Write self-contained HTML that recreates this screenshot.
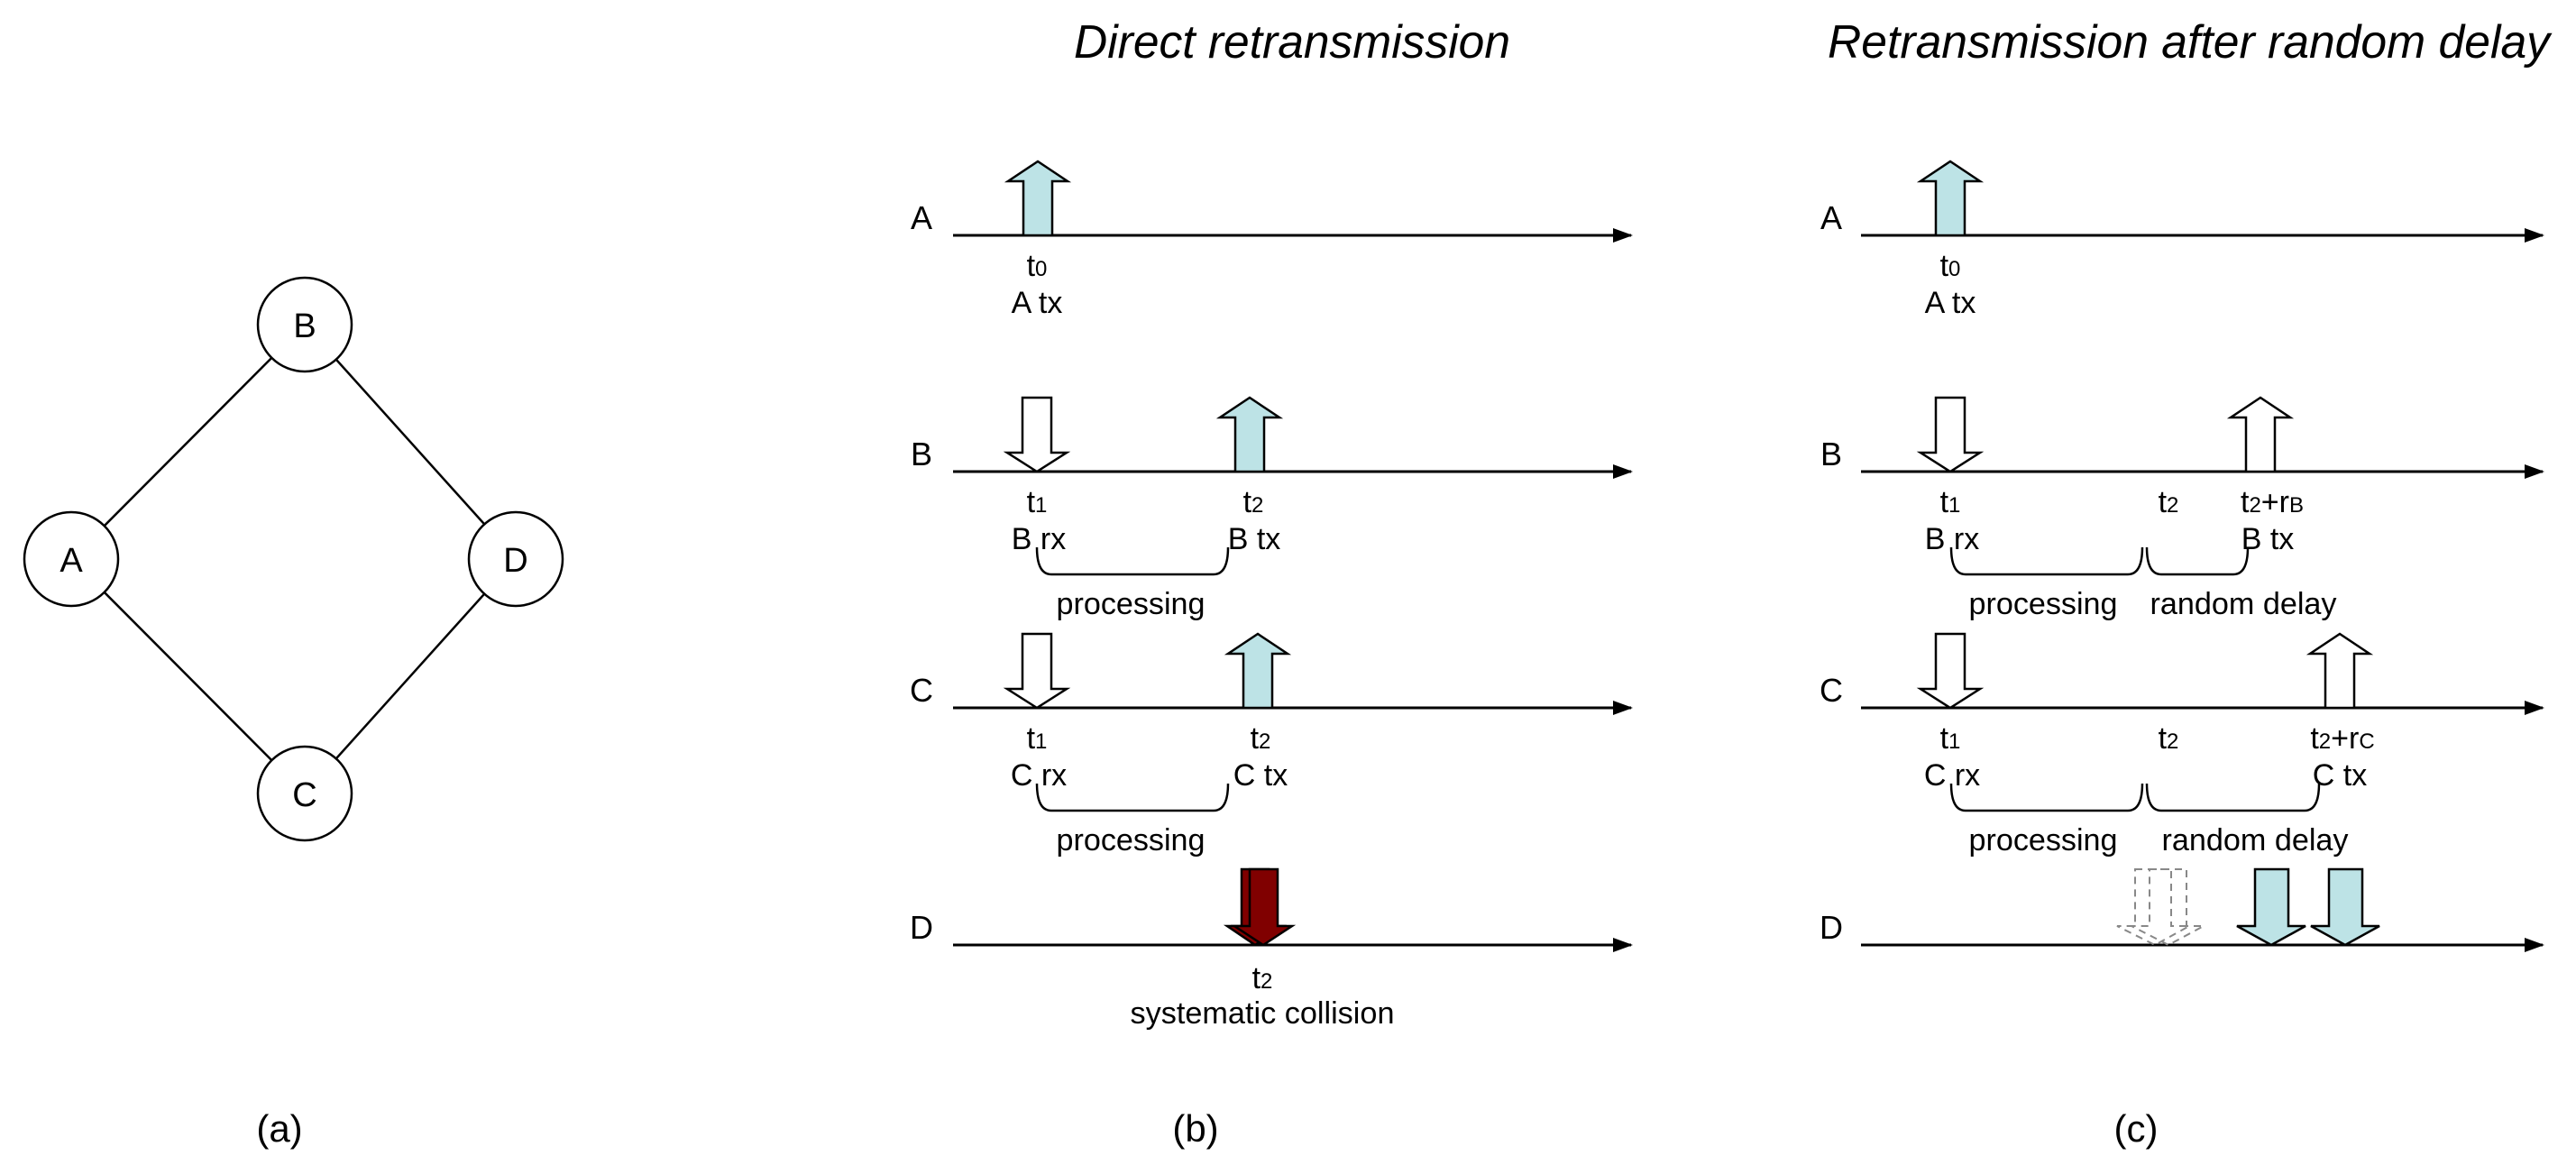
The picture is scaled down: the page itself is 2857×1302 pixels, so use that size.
<!DOCTYPE html>
<html><head><meta charset="utf-8"><style>html,body{margin:0;padding:0;background:#fff}svg{display:block}</style></head>
<body>
<svg width="2857" height="1302" viewBox="0 0 2857 1302" xmlns="http://www.w3.org/2000/svg" font-family="Liberation Sans, Arial, sans-serif" fill="#000">
<defs>
<marker id="ah" markerWidth="22" markerHeight="16" refX="20" refY="8" orient="auto" markerUnits="userSpaceOnUse" viewBox="0 0 22 16"><path d="M0,0 L22,8 L0,16 Z" fill="#000"/></marker>
</defs>
<!-- Panel a -->
<g stroke="#000" stroke-width="2.5">
<line x1="338" y1="360" x2="79" y2="620"/>
<line x1="338" y1="360" x2="572" y2="620"/>
<line x1="79" y1="620" x2="338" y2="880"/>
<line x1="572" y1="620" x2="338" y2="880"/>
<circle cx="338" cy="360" r="52" fill="#fff"/>
<circle cx="79" cy="620" r="52" fill="#fff"/>
<circle cx="572" cy="620" r="52" fill="#fff"/>
<circle cx="338" cy="880" r="52" fill="#fff"/>
</g>
<g font-size="38" text-anchor="middle">
<text x="338" y="374">B</text><text x="79" y="634">A</text><text x="572" y="634">D</text><text x="338" y="894">C</text>
</g>
<g font-size="42" text-anchor="middle">
<text x="310" y="1266">(a)</text><text x="1326" y="1266">(b)</text><text x="2369" y="1266">(c)</text>
</g>
<!-- titles -->
<text x="1191" y="64" font-size="52" font-style="italic" textLength="484" lengthAdjust="spacingAndGlyphs">Direct retransmission</text>
<text x="2027" y="64" font-size="52" font-style="italic" textLength="801" lengthAdjust="spacingAndGlyphs">Retransmission after random delay</text>

<!-- axes -->
<g stroke="#000" stroke-width="3" marker-end="url(#ah)">
<line x1="1057" y1="261" x2="1809" y2="261"/>
<line x1="1057" y1="523" x2="1809" y2="523"/>
<line x1="1057" y1="785" x2="1809" y2="785"/>
<line x1="1057" y1="1048" x2="1809" y2="1048"/>
<line x1="2064" y1="261" x2="2820" y2="261"/>
<line x1="2064" y1="523" x2="2820" y2="523"/>
<line x1="2064" y1="785" x2="2820" y2="785"/>
<line x1="2064" y1="1048" x2="2820" y2="1048"/>
</g>
<g font-size="36" text-anchor="middle">
<text x="1022" y="254">A</text><text x="1022" y="516">B</text><text x="1022" y="778">C</text><text x="1022" y="1041">D</text>
<text x="2031" y="254">A</text><text x="2031" y="516">B</text><text x="2031" y="778">C</text><text x="2031" y="1041">D</text>
</g>

<!-- arrows panel b -->
<g stroke="#000" stroke-width="2.5">
<path d="M1135,261 L1135,201 L1118,201 L1151,179 L1184,201 L1167,201 L1167,261 Z" fill="#bde3e6"/>
<path d="M1134,441 L1166,441 L1166,502 L1183,502 L1150,523 L1117,502 L1134,502 Z" fill="#fff"/>
<path d="M1370,523 L1370,463 L1353,463 L1386,441 L1419,463 L1402,463 L1402,523 Z" fill="#bde3e6"/>
<path d="M1134,703 L1166,703 L1166,764 L1183,764 L1150,785 L1117,764 L1134,764 Z" fill="#fff"/>
<path d="M1379,785 L1379,725 L1362,725 L1395,703 L1428,725 L1411,725 L1411,785 Z" fill="#bde3e6"/>
<path d="M1377,964 L1407,964 L1407,1027 L1423,1027 L1392,1048 L1361,1027 L1377,1027 Z" fill="#800000"/>
<path d="M1386,964 L1417,964 L1417,1027 L1433,1027 L1401,1048 L1369,1027 L1386,1027 Z" fill="#800000"/>
</g>
<!-- braces b -->
<g fill="none" stroke="#000" stroke-width="2.5">
<path d="M1150,607 Q1150,637 1166,637 L1346,637 Q1362,637 1362,607"/>
<path d="M1150,869 Q1150,899 1166,899 L1346,899 Q1362,899 1362,869"/>
</g>
<g font-size="34" text-anchor="middle">
<text x="1150" y="306">t<tspan font-size="24">0</tspan></text>
<text x="1150" y="347">A tx</text>
<text x="1150" y="568">t<tspan font-size="24">1</tspan></text>
<text x="1152" y="609">B rx</text>
<text x="1390" y="568">t<tspan font-size="24">2</tspan></text>
<text x="1391" y="609">B tx</text>
<text x="1254" y="681" textLength="165" lengthAdjust="spacingAndGlyphs">processing</text>
<text x="1150" y="830">t<tspan font-size="24">1</tspan></text>
<text x="1152" y="871">C rx</text>
<text x="1398" y="830">t<tspan font-size="24">2</tspan></text>
<text x="1398" y="871">C tx</text>
<text x="1254" y="943" textLength="165" lengthAdjust="spacingAndGlyphs">processing</text>
<text x="1400" y="1096">t<tspan font-size="24">2</tspan></text>
<text x="1400" y="1135" textLength="293" lengthAdjust="spacingAndGlyphs">systematic collision</text>
</g>

<!-- arrows panel c -->
<g stroke="#000" stroke-width="2.5">
<path d="M2147,261 L2147,201 L2130,201 L2163,179 L2196,201 L2179,201 L2179,261 Z" fill="#bde3e6"/>
<path d="M2147,441 L2179,441 L2179,502 L2196,502 L2163,523 L2130,502 L2147,502 Z" fill="#fff"/>
<path d="M2491,523 L2491,463 L2474,463 L2507,441 L2540,463 L2523,463 L2523,523 Z" fill="#fff"/>
<path d="M2147,703 L2179,703 L2179,764 L2196,764 L2163,785 L2130,764 L2147,764 Z" fill="#fff"/>
<path d="M2579,785 L2579,725 L2562,725 L2595,703 L2628,725 L2611,725 L2611,785 Z" fill="#fff"/>
<path d="M2501,964 L2538,964 L2538,1027 L2557,1027 L2519,1048 L2481,1027 L2501,1027 Z" fill="#bde3e6"/>
<path d="M2583,964 L2620,964 L2620,1027 L2639,1027 L2601,1048 L2563,1027 L2583,1027 Z" fill="#bde3e6"/>
</g>
<g fill="none" stroke="#888" stroke-width="2" stroke-dasharray="8,6">
<path d="M2368,964 L2408,964 L2408,1027 L2428,1027 L2390,1048 L2348,1027 L2368,1027 Z"/>
<path d="M2384,964 L2425,964 L2425,1027 L2444,1027 L2405,1048 L2364,1027 L2384,1027 Z"/>
</g>
<g fill="none" stroke="#000" stroke-width="2.5">
<path d="M2164,607 Q2164,637 2180,637 L2360,637 Q2376,637 2376,607"/>
<path d="M2381,607 Q2381,637 2397,637 L2477,637 Q2493,637 2493,607"/>
<path d="M2164,869 Q2164,899 2180,899 L2360,899 Q2376,899 2376,869"/>
<path d="M2381,869 Q2381,899 2397,899 L2556,899 Q2572,899 2572,869"/>
</g>
<g font-size="34" text-anchor="middle">
<text x="2163" y="306">t<tspan font-size="24">0</tspan></text>
<text x="2163" y="347">A tx</text>
<text x="2163" y="568">t<tspan font-size="24">1</tspan></text>
<text x="2165" y="609">B rx</text>
<text x="2405" y="568">t<tspan font-size="24">2</tspan></text>
<text x="2520" y="568">t<tspan font-size="24">2</tspan>+r<tspan font-size="24">B</tspan></text>
<text x="2515" y="609">B tx</text>
<text x="2266" y="681" textLength="165" lengthAdjust="spacingAndGlyphs">processing</text>
<text x="2488" y="681" textLength="207" lengthAdjust="spacingAndGlyphs">random delay</text>
<text x="2163" y="830">t<tspan font-size="24">1</tspan></text>
<text x="2165" y="871">C rx</text>
<text x="2405" y="830">t<tspan font-size="24">2</tspan></text>
<text x="2598" y="830">t<tspan font-size="24">2</tspan>+r<tspan font-size="24">C</tspan></text>
<text x="2595" y="871">C tx</text>
<text x="2266" y="943" textLength="165" lengthAdjust="spacingAndGlyphs">processing</text>
<text x="2501" y="943" textLength="207" lengthAdjust="spacingAndGlyphs">random delay</text>
</g>
</svg>
</body></html>
